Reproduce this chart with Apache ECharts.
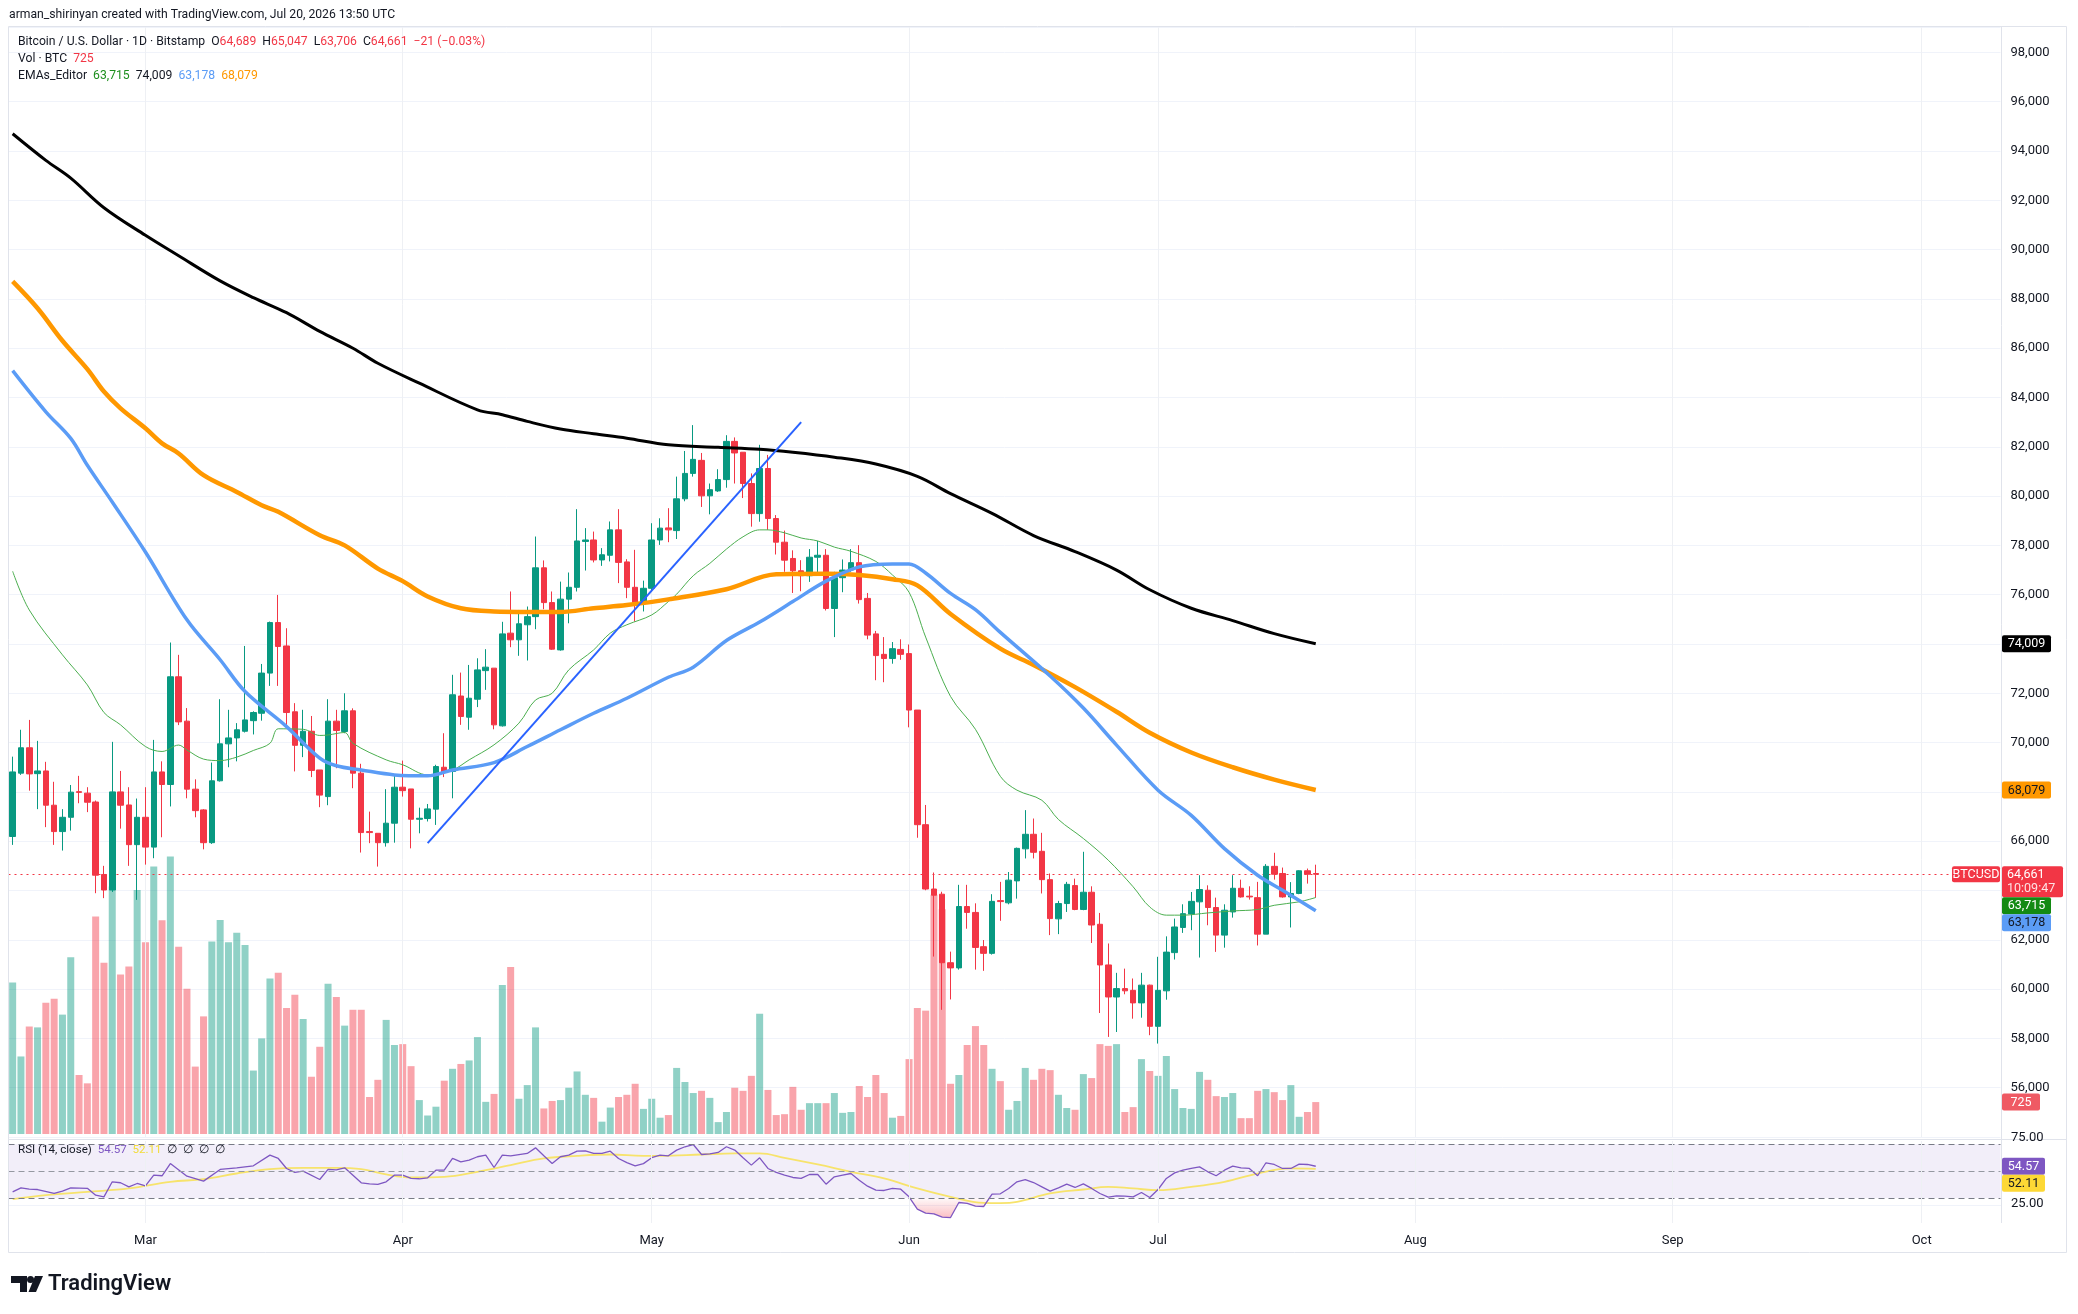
<!DOCTYPE html>
<html lang="en">
<head>
<meta charset="UTF-8">
<title>Bitcoin / U.S. Dollar 1D</title>
<script src="https://cdn.jsdelivr.net/npm/echarts/dist/echarts.min.js"></script>
<style>
  * { margin: 0; padding: 0; }
  body { background: #fff; overflow: hidden; }
  #chart { width: 2078px; height: 1314px; }
</style>
</head>
<body>
<div id="chart"></div>
<script>
// daily axis: first candle 2026-02-13, axis keeps going into October (empty space)
var startDate = [2026, 1, 13];
var dayCount = 240;
var monthNames = ['Jan', 'Feb', 'Mar', 'Apr', 'May', 'Jun', 'Jul', 'Aug', 'Sep', 'Oct', 'Nov', 'Dec'];

// candles (Feb 13 .. Jul 20)
var opens = [
  66190,68760,69790,68740,68850,67460,66390,66970,68010,67950,
  67590,64650,64020,68000,67470,65860,66970,65760,68810,68300,
  72670,70870,68110,67270,65940,68450,69950,70190,70460,70890,
  71190,72820,74870,73920,71250,69890,70460,68890,67810,70870,
  70450,71290,68760,66390,66320,65940,66730,68190,68120,66890,
  66920,67300,69000,68830,71890,71030,71760,72920,73020,70680,
  74440,74170,74780,75110,77090,75680,73760,75820,76300,78160,
  78220,77410,77600,78630,77330,76300,75680,76260,78220,78710,
  78600,79890,80920,81450,80010,80210,80670,82220,81780,80510,
  79290,81120,79090,78130,77470,76970,76770,77520,77600,75440,
  76690,77000,77300,75850,74410,73580,73410,73780,73610,71320,
  66670,64060,63850,61070,60860,63350,63110,61720,61450,63590,
  63500,64390,65690,66280,65590,64440,62850,63470,64200,63230,
  63930,62630,60980,59680,60020,59950,59440,60160,58490,59930,
  61480,62500,63050,63540,64010,63310,62190,63130,64090,63770,
  63710,62230,64980,64690,63740,63880,64800,64689
];
var highs = [
  69430,70520,70920,70070,69220,68410,67300,68280,68650,68190,
  67650,65000,70030,68850,68190,67730,68190,70110,69240,74060,
  73560,71400,68510,67300,69190,71760,71330,70790,73920,71270,
  73190,74910,75990,74640,71600,71330,71080,68890,71760,71330,
  72000,71390,69140,67200,66320,68110,68650,69270,68120,67360,
  67510,69100,70380,72750,72840,73150,73420,73790,73020,74900,
  76130,75380,75520,78360,77390,76130,76530,76900,79470,78700,
  78560,77890,78970,79470,77440,77820,76570,78900,79100,79510,
  80790,81830,82880,81750,80510,81090,82470,82380,81780,80920,
  82080,81670,79230,78600,77800,77400,77850,78180,77850,76930,
  77430,77850,78010,76070,74530,74280,74080,74190,73980,71320,
  67470,64730,63950,61520,64230,64230,63480,61990,63850,64350,
  64750,65740,67260,66920,66340,64690,63580,64350,64480,65570,
  64170,63090,61850,60660,60830,60430,60660,60180,61310,62140,
  62860,63440,63940,64620,64210,63710,63440,64620,64440,64170,
  64350,65070,65530,64930,64340,64820,64890,65047
];
var lows = [
  65850,68690,68050,67300,66570,65850,65620,66430,67540,67180,
  63890,63690,63940,66510,65000,63620,65050,65310,66160,67410,
  70710,67740,66970,65670,65890,68420,69000,69240,70410,70330,
  70890,72300,72300,70650,68830,69410,68600,67380,67460,68960,
  70380,68150,65540,65920,64970,65780,65940,67810,65710,66320,
  66800,66660,68600,67740,70720,70520,71440,72140,70540,70650,
  73870,73520,73330,74600,75410,73760,73730,74840,76130,76980,
  77310,77170,77350,76470,75860,74910,75320,76130,78020,78130,
  78260,79790,80790,79560,79260,80170,80340,80510,79920,78760,
  78960,78630,77630,76930,76070,76140,76520,76770,75360,74280,
  76100,76930,75640,74190,72530,72450,73200,73360,70620,66140,
  64010,61320,59160,59580,60790,62450,60790,60740,61400,62770,
  63440,63670,65300,65300,63880,62190,62230,63130,63200,63200,
  61870,59030,58060,58260,59790,58800,58840,58130,57790,59570,
  61200,62280,62390,61280,62590,61510,61680,62900,63710,63630,
  61770,62230,64440,63710,62500,63850,64280,63706
];
var closes = [
  68810,69790,68730,68850,67460,66390,66970,67990,67980,67580,
  64620,64020,68000,67460,65860,66970,65760,68810,68300,72670,
  70840,68110,67240,65940,68450,69950,70190,70520,70920,71220,
  72820,74870,73900,71220,69890,70460,68870,67870,70870,70490,
  71290,68760,66350,66350,65940,66730,68190,68050,66890,66930,
  67310,69030,68810,71940,71060,71800,72950,73060,70720,74410,
  74170,74820,75110,77090,75680,73790,75820,76300,78180,78220,
  77410,77620,78630,77310,76300,75680,76260,78220,78700,78630,
  79890,80920,81490,80010,80260,80670,82220,81750,80510,79290,
  81120,79090,78130,77400,76970,76770,77520,77600,75440,76690,
  77000,77300,75800,74360,73530,73410,73810,73580,71320,66670,
  64060,63810,61070,60860,63350,63110,61690,61450,63560,63550,
  64420,65710,66280,65550,64440,62860,63470,64250,63230,63930,
  62600,60980,59680,60020,59930,59440,60160,58490,59950,61500,
  62520,63060,63560,64040,63310,62190,63200,64090,63740,63740,
  62230,64980,64660,63740,63880,64800,64660,64661
];
var volumes = [
  3440,1760,2440,2420,2980,3070,2710,4010,1340,1150,
  4940,3890,5620,3620,3800,5540,4350,6070,4850,6300,
  4250,3300,1530,2670,4370,4860,4350,4570,4290,1440,
  2170,3530,3660,2860,3160,2610,1300,1980,3410,3110,
  2460,2820,2820,840,1230,2590,2020,2040,1540,770,
  420,620,1210,1480,1590,1670,2200,730,910,3380,
  3790,800,1110,2420,580,750,770,1050,1420,890,
  820,280,600,840,890,1140,570,800,370,430,
  1500,1180,930,980,820,270,500,1050,980,1320,
  2730,1000,430,450,1070,550,700,700,700,930,
  480,500,1090,840,1340,930,370,410,1700,2860,
  2800,5430,5100,1140,1340,2020,2450,2020,1480,1200,
  550,750,1500,1230,1480,1450,890,590,550,1360,
  1270,2040,2000,2040,500,610,1700,1430,1320,1770,
  1020,590,570,1410,1230,860,840,930,360,360,
  980,1020,950,770,1110,390,500,725
];

// moving averages sampled along the drawn curves: day index -> value
var emaGreenDays = [0,2,6,9,11,13,16,18,20,21,23,25,27,29,31,32,35,37,38,40,41,45,47,50,53,55,58,61,63,65,67,70,72,74,77,79,80,82,84,86,88,90,91,93,95,97,99,101,104,106,108,110,113,116,119,121,124,126,129,132,135,137,139,141,144,147,150,152,155,157];
var emaGreenVals = [76950,75380,73560,72340,71220,70720,69840,69640,69900,69700,69330,69270,69410,69680,69970,70560,70540,70290,70310,70410,69970,69300,69100,68690,68890,69300,69910,70790,71730,72000,72950,73760,74440,74780,75180,75720,76020,76770,77270,77850,78350,78630,78630,78510,78300,78180,77930,77760,77350,76800,76100,74280,71870,70540,68630,68070,67660,66880,66110,65230,64150,63330,63000,63000,63090,63170,63230,63400,63540,63715];

var emaBlackDays = [0,4,7,11,16,20,25,29,33,37,41,44,49,56,59,62,66,70,74,79,85,90,94,99,104,109,113,118,123,128,133,137,142,147,152,157];
var emaBlackVals = [94700,93620,92900,91700,90580,89750,88730,88050,87440,86680,86000,85390,84580,83500,83300,83030,82720,82530,82350,82080,81980,81900,81780,81580,81300,80800,80100,79300,78400,77750,77000,76200,75450,74950,74420,74009];

var emaBlueDays = [0,4,7,9,12,16,21,25,28,33,37,39,42,46,50,53,58,62,66,70,74,79,82,86,90,94,98,102,106,108,110,113,116,119,125,129,133,138,142,146,150,153,157];
var emaBlueVals = [85090,83420,82340,81250,79760,77730,74980,73360,72070,70650,69370,69060,68890,68690,68650,68890,69190,69840,70520,71190,71800,72650,73060,74140,74890,75720,76550,77130,77250,77250,76880,76050,75390,74470,72700,71400,69900,68068,67050,65700,64620,64010,63178];

var emaOrangeDays = [0,3,6,9,11,13,16,18,20,23,27,30,32,37,40,44,47,50,54,58,62,66,70,74,79,86,92,98,102,106,109,113,119,123,128,133,137,142,147,152,157];
var emaOrangeVals = [88710,87620,86300,85150,84240,83560,82750,82140,81730,80850,80170,79630,79360,78410,78000,77060,76550,75930,75450,75320,75300,75300,75450,75580,75810,76220,76830,76850,76800,76630,76380,75220,73810,73150,72250,71250,70400,69600,69000,68500,68079];

// hand-drawn trend line (start, end)
var trendDays = [50, 95];
var trendVals = [65920, 83000];

// RSI (14) and its moving average
var rsiDays = [0,1,2,3,5,6,7,9,10,11,12,13,14,15,16,17,18,19,21,23,25,27,29,31,32,33,34,35,37,38,39,40,42,43,44,45,46,47,48,49,50,51,52,53,54,55,56,57,58,59,60,62,63,64,65,66,67,68,69,70,71,72,73,74,75,76,77,78,79,80,81,82,83,84,85,86,87,88,89,90,91,92,93,94,95,96,97,98,99,100,101,102,103,104,105,106,107,108,109,110,111,112,113,114,115,116,117,118,119,120,121,122,123,124,125,126,127,128,129,130,131,132,133,134,135,136,137,138,139,140,141,142,143,144,145,146,147,148,149,150,151,152,153,154,155,156,157];
var rsiVals = [30.7,34.5,33.2,32.9,29.2,31.4,34.5,34.0,27.6,26.1,40.1,39.2,35.4,38.5,36.3,46.3,45.7,57.1,45.3,40.7,51.6,53.1,55.0,64.9,61.8,52.5,48.8,50.0,42.2,51.6,51.2,53.1,39.1,38.2,37.6,40.1,46.3,46.3,43.2,42.9,43.8,50.9,50.9,61.8,58.7,60.2,63.4,64.9,53.4,64.9,64.3,66.5,71.7,64.3,57.1,63.4,64.9,68.6,68.9,66.5,66.5,68.6,61.8,58.0,55.0,57.0,62.5,64.9,64.3,69.6,72.7,74.8,65.5,66.1,67.4,72.7,69.6,62.4,55.6,62.4,52.5,48.8,46.3,44.1,43.2,46.9,46.9,37.9,44.7,46.3,47.8,41.6,36.0,32.3,32.0,33.9,33.2,26.1,14.6,10.9,10.2,7.1,6.8,20.8,19.9,17.4,17.1,28.6,28.9,33.9,40.1,42.2,39.4,35.4,31.4,34.5,37.9,34.8,38.2,33.9,29.2,25.8,27.0,26.7,26.1,30.1,25.5,32.9,43.2,48.4,50.9,52.5,54.0,49.4,45.7,50.9,54.7,53.1,52.5,45.7,57.8,56.2,52.5,52.5,56.5,56.2,54.57];
var maDays = [0,4,9,14,19,23,27,31,35,39,42,45,48,52,56,60,64,68,72,76,78,83,87,90,93,97,101,105,109,113,117,119,121,125,129,132,135,138,142,146,150,154,157];
var maVals = [23.9,27.6,30.7,33.9,40.1,42.5,47.8,51.9,53.1,53.1,51.9,46.9,44.1,44.7,49.4,55.6,61.8,64.3,65.5,64.3,64.3,65.5,66.5,66.5,62.4,56.2,49.4,43.2,33.9,26.1,20.5,20.3,21.4,29.2,32.9,35.4,33.9,32.3,35.4,40.1,47.8,52.5,52.11];

// price levels whose axis label is covered by a tag on the right scale
var hiddenPriceLabels = [64000, 68000, 74000];

var upColor = '#089981';
var downColor = '#f23645';
var font = 'Roboto, "Open Sans", sans-serif';

var dates = [];
var t0 = Date.UTC(startDate[0], startDate[1], startDate[2]);
for (var i = 0; i < dayCount; i++) {
  dates.push(new Date(t0 + i * 86400000).toISOString().slice(0, 10));
}
var monthStarts = dates.filter(function (d) { return d.slice(8) === '01'; });

function pairs(days, vals) {
  return days.map(function (d, k) { return [dates[d], vals[k]]; });
}

var candleData = opens.map(function (o, k) { return [o, closes[k], lows[k], highs[k]]; });
var volData = volumes.map(function (v, k) {
  return { value: v, itemStyle: { color: closes[k] >= opens[k] ? 'rgba(8,153,129,0.45)' : 'rgba(242,54,69,0.45)' } };
});

// oversold shading under 25
var osBase = [], osTop = [];
rsiDays.forEach(function (d, k) {
  if (d >= 106 && d <= 120) {
    var v = Math.min(rsiVals[k], 25);
    osBase.push([dates[d], v]);
    osTop.push([dates[d], 25 - v]);
  }
});

var monthLines = monthStarts.map(function (d) { return { xAxis: d }; });

function emaLine(days, vals, color, width) {
  return {
    type: 'line', xAxisIndex: 0, yAxisIndex: 0, data: pairs(days, vals),
    smooth: 0.35, symbol: 'none', silent: true, z: 6,
    lineStyle: { color: color, width: width }
  };
}

var chart = echarts.init(document.getElementById('chart'));

var option = {
  animation: false,
  backgroundColor: '#ffffff',
  grid: [
    { left: 8.5, top: 27, width: 1992, height: 1110, outerBoundsMode: 'none' },
    { left: 8.5, top: 834, width: 1992, height: 300, outerBoundsMode: 'none' },
    { left: 8.5, top: 1141, width: 1992, height: 82, outerBoundsMode: 'none' }
  ],
  xAxis: [0, 1, 2].map(function (g) {
    return {
      type: 'category', gridIndex: g, data: dates, boundaryGap: true,
      axisLine: { show: false }, axisTick: { show: false }, splitLine: { show: false },
      axisLabel: g === 2 ? {
        show: true, color: '#131722', fontSize: 13, fontFamily: font, margin: 11,
        interval: function (idx, v) { return v.slice(8) === '01'; },
        formatter: function (v) { return monthNames[+v.slice(5, 7) - 1]; }
      } : { show: false }
    };
  }),
  yAxis: [
    {
      type: 'value', gridIndex: 0, position: 'right', min: 54000, max: 99030, interval: 2000,
      axisLine: { show: false }, axisTick: { show: false },
      splitLine: { lineStyle: { color: '#f0f3fa', width: 1 } },
      axisLabel: {
        color: '#131722', fontSize: 13, fontFamily: font, margin: 10, align: 'left',
        showMinLabel: false, showMaxLabel: false,
        formatter: function (v) {
          if (v % 2000 !== 0 || v <= 54000 || hiddenPriceLabels.indexOf(v) >= 0) return '';
          return v.toLocaleString('en-US');
        }
      }
    },
    { type: 'value', gridIndex: 1, min: 0, max: 6810, show: false },
    { type: 'value', gridIndex: 2, min: 1.72, max: 78.07, show: false }
  ],
  series: [
    {
      // month grid lines in the price pane
      type: 'line', xAxisIndex: 0, yAxisIndex: 0, data: [[dates[0], 54000]],
      symbol: 'none', lineStyle: { opacity: 0 }, silent: true, z: 0,
      markLine: {
        symbol: 'none', silent: true, animation: false, label: { show: false },
        lineStyle: { color: '#eef0f4', width: 1, type: 'solid' }, data: monthLines
      }
    },
    {
      type: 'bar', name: 'Vol', xAxisIndex: 1, yAxisIndex: 1, data: volData,
      barWidth: 7, silent: true, z: 1
    },
    {
      type: 'candlestick', name: 'BTCUSD', xAxisIndex: 0, yAxisIndex: 0, data: candleData,
      barWidth: 6, z: 5,
      itemStyle: { color: upColor, color0: downColor, borderColor: upColor, borderColor0: downColor, borderWidth: 1 },
      markLine: {
        symbol: 'none', silent: true, animation: false, label: { show: false },
        lineStyle: { color: downColor, width: 1, type: [2, 4] },
        data: [{ yAxis: 64661 }]
      }
    },
    emaLine(emaGreenDays, emaGreenVals, '#4caf50', 1),
    emaLine(emaBlackDays, emaBlackVals, '#000000', 3),
    emaLine(emaOrangeDays, emaOrangeVals, '#ff9800', 4.5),
    emaLine(emaBlueDays, emaBlueVals, '#5b9cf6', 3.5),
    {
      type: 'line', xAxisIndex: 0, yAxisIndex: 0, data: pairs(trendDays, trendVals),
      symbol: 'none', silent: true, z: 7, lineStyle: { color: '#2962ff', width: 2 }
    },
    {
      type: 'line', xAxisIndex: 2, yAxisIndex: 2, data: osBase, stack: 'os',
      symbol: 'none', silent: true, lineStyle: { opacity: 0 }, z: 2
    },
    {
      type: 'line', xAxisIndex: 2, yAxisIndex: 2, data: osTop, stack: 'os',
      symbol: 'none', silent: true, lineStyle: { opacity: 0 }, z: 2,
      areaStyle: {
        color: new echarts.graphic.LinearGradient(0, 0, 0, 1, [
          { offset: 0, color: 'rgba(242,54,69,0.04)' },
          { offset: 1, color: 'rgba(242,54,69,0.45)' }
        ])
      }
    },
    {
      type: 'line', name: 'RSI', xAxisIndex: 2, yAxisIndex: 2, data: pairs(rsiDays, rsiVals),
      symbol: 'none', silent: true, z: 4, lineStyle: { color: '#7e57c2', width: 1.3 },
      markArea: {
        silent: true, itemStyle: { color: 'rgba(126,87,194,0.1)' },
        data: [[{ yAxis: 25 }, { yAxis: 75 }]]
      },
      markLine: {
        symbol: 'none', silent: true, animation: false, label: { show: false },
        data: [
          { yAxis: 75, lineStyle: { color: '#787b86', width: 1, type: [6, 4] } },
          { yAxis: 50, lineStyle: { color: '#9598a1', width: 1, type: [6, 4] } },
          { yAxis: 25, lineStyle: { color: '#787b86', width: 1, type: [6, 4] } }
        ].concat(monthStarts.map(function (d) {
          return { xAxis: d, lineStyle: { color: '#eef0f4', width: 1, type: 'solid' } };
        }))
      }
    },
    {
      type: 'line', name: 'RSI MA', xAxisIndex: 2, yAxisIndex: 2, data: pairs(maDays, maVals),
      smooth: 0.4, symbol: 'none', silent: true, z: 3,
      lineStyle: { color: '#f7e36b', width: 1.8 }
    }
  ]
};

chart.setOption(option);

// labels, tags and frame
function py(v) { return chart.convertToPixel({ yAxisIndex: 0 }, v); }
function pv(v) { return chart.convertToPixel({ yAxisIndex: 1 }, v); }
function pr(v) { return chart.convertToPixel({ yAxisIndex: 2 }, v); }

function tag(x, top, w, h, bg, fg, txt) {
  return {
    type: 'group', z: 100, children: [
      { type: 'rect', shape: { x: x, y: top, width: w, height: h, r: 2 }, style: { fill: bg } },
      { type: 'text', x: x + w / 2, y: top + h / 2 + 0.5,
        style: { text: txt, fill: fg, font: '12.5px ' + font, align: 'center', verticalAlign: 'middle',
                 textAlign: 'center', textVerticalAlign: 'middle' } }
    ]
  };
}
function label(x, y, txt, size, color, rich) {
  return {
    type: 'text', x: x, y: y, z: 100,
    style: { text: txt, fill: color || '#131722', font: (size || 13) + 'px ' + font,
             verticalAlign: 'middle', textVerticalAlign: 'middle', rich: rich }
  };
}

var tagX = 2002, th = 17;
var pTop = py(64661) - 8;
var gTop = Math.max(py(63715) - th / 2, pTop + 31);
var bTop = Math.max(py(63178) - th / 2, gTop + th);
var r1Top = pr(54.57) - th / 2;
var r2Top = Math.max(pr(52.11) - th / 2, r1Top + th);

var rs = function (c, size) { return { fill: c, fontSize: size || 12.2, fontFamily: font }; };

var graphics = [
  { type: 'rect', z: 99, shape: { x: 8.5, y: 26.5, width: 2058, height: 1226 }, style: { fill: null, stroke: '#e0e3eb', lineWidth: 1 } },
  { type: 'line', z: 99, shape: { x1: 8.5, y1: 1139.5, x2: 2066.5, y2: 1139.5 }, style: { stroke: '#e0e3eb', lineWidth: 1 } },
  { type: 'line', z: 99, shape: { x1: 2001.5, y1: 26.5, x2: 2001.5, y2: 1223 }, style: { stroke: '#e0e3eb', lineWidth: 1 } },
  { type: 'line', z: 0, shape: { x1: 8.5, y1: 1205.5, x2: 2001, y2: 1205.5 }, style: { stroke: '#f0f3fa', lineWidth: 1 } },

  label(9, 15, 'arman_shirinyan created with TradingView.com, Jul 20, 2026 13:50 UTC', 12.2),
  label(18, 42, '{n|Bitcoin / U.S. Dollar · 1D · Bitstamp}  {n|O}{r|64,689}  {n|H}{r|65,047}  {n|L}{r|63,706}  {n|C}{r|64,661}  {r|−21 (−0.03%)}', 12.2, null,
        { n: rs('#131722'), r: rs('#f23645') }),
  label(18, 59, '{n|Vol · BTC}  {r|725}', 12.2, null, { n: rs('#131722'), r: rs('#f23645') }),
  label(18, 76, '{n|EMAs_Editor}  {g|63,715}  {k|74,009}  {b|63,178}  {o|68,079}', 12.2, null,
        { n: rs('#131722'), g: rs('#1e8f1e'), k: rs('#131722'), b: rs('#5b9cf6'), o: rs('#ff9800') }),
  label(18, 1150, '{n|RSI (14, close)}  {p|54.57}  {y|52.11}  {n|∅  ∅  ∅  ∅}', 11.6, null,
        { n: rs('#131722', 11.6), p: rs('#7e57c2', 11.6), y: rs('#f2dc3a', 11.6) }),

  tag(tagX, py(74009) - th / 2, 49, th, '#000000', '#ffffff', '74,009'),
  tag(tagX, py(68079) - th / 2, 49, th, '#ff9800', '#131722', '68,079'),
  tag(1952, pTop, 48, 16, '#f23645', '#ffffff', 'BTCUSD'),
  {
    type: 'group', z: 100, children: [
      { type: 'rect', shape: { x: tagX, y: pTop, width: 61, height: 31, r: 2 }, style: { fill: '#f23645' } },
      { type: 'text', x: tagX + 5, y: pTop + 8.5, style: { text: '64,661', fill: '#ffffff', font: '12.5px ' + font, verticalAlign: 'middle', textVerticalAlign: 'middle' } },
      { type: 'text', x: tagX + 5, y: pTop + 23, style: { text: '10:09:47', fill: 'rgba(255,255,255,0.85)', font: '12.5px ' + font, verticalAlign: 'middle', textVerticalAlign: 'middle' } }
    ]
  },
  tag(tagX, gTop, 49, th, '#138a13', '#ffffff', '63,715'),
  tag(tagX, bTop, 49, th, '#5b9cf6', '#131722', '63,178'),
  tag(tagX, pv(725) - th / 2, 38, th, '#ef5a64', '#ffffff', '725'),
  tag(tagX, r1Top, 43, th, '#7e57c2', '#ffffff', '54.57'),
  tag(tagX, r2Top, 43, th, '#fdd835', '#131722', '52.11'),
  label(2011, 1138, '75.00', 13),
  label(2011, 1204, '25.00', 13),

  // TradingView mark
  { type: 'polygon', z: 100, shape: { points: [[11, 1276], [27, 1276], [27, 1292], [20, 1292], [20, 1283], [11, 1283]] }, style: { fill: '#131722' } },
  { type: 'circle', z: 100, shape: { cx: 30.5, cy: 1279.5, r: 3.5 }, style: { fill: '#131722' } },
  { type: 'polygon', z: 100, shape: { points: [[35, 1276], [43, 1276], [36, 1292], [28.5, 1292]] }, style: { fill: '#131722' } },
  { type: 'text', z: 100, x: 48, y: 1284, style: { text: 'TradingView', fill: '#131722', font: '600 22px ' + font, verticalAlign: 'middle', textVerticalAlign: 'middle' } }
];

chart.setOption({ graphic: graphics });
</script>
</body>
</html>
